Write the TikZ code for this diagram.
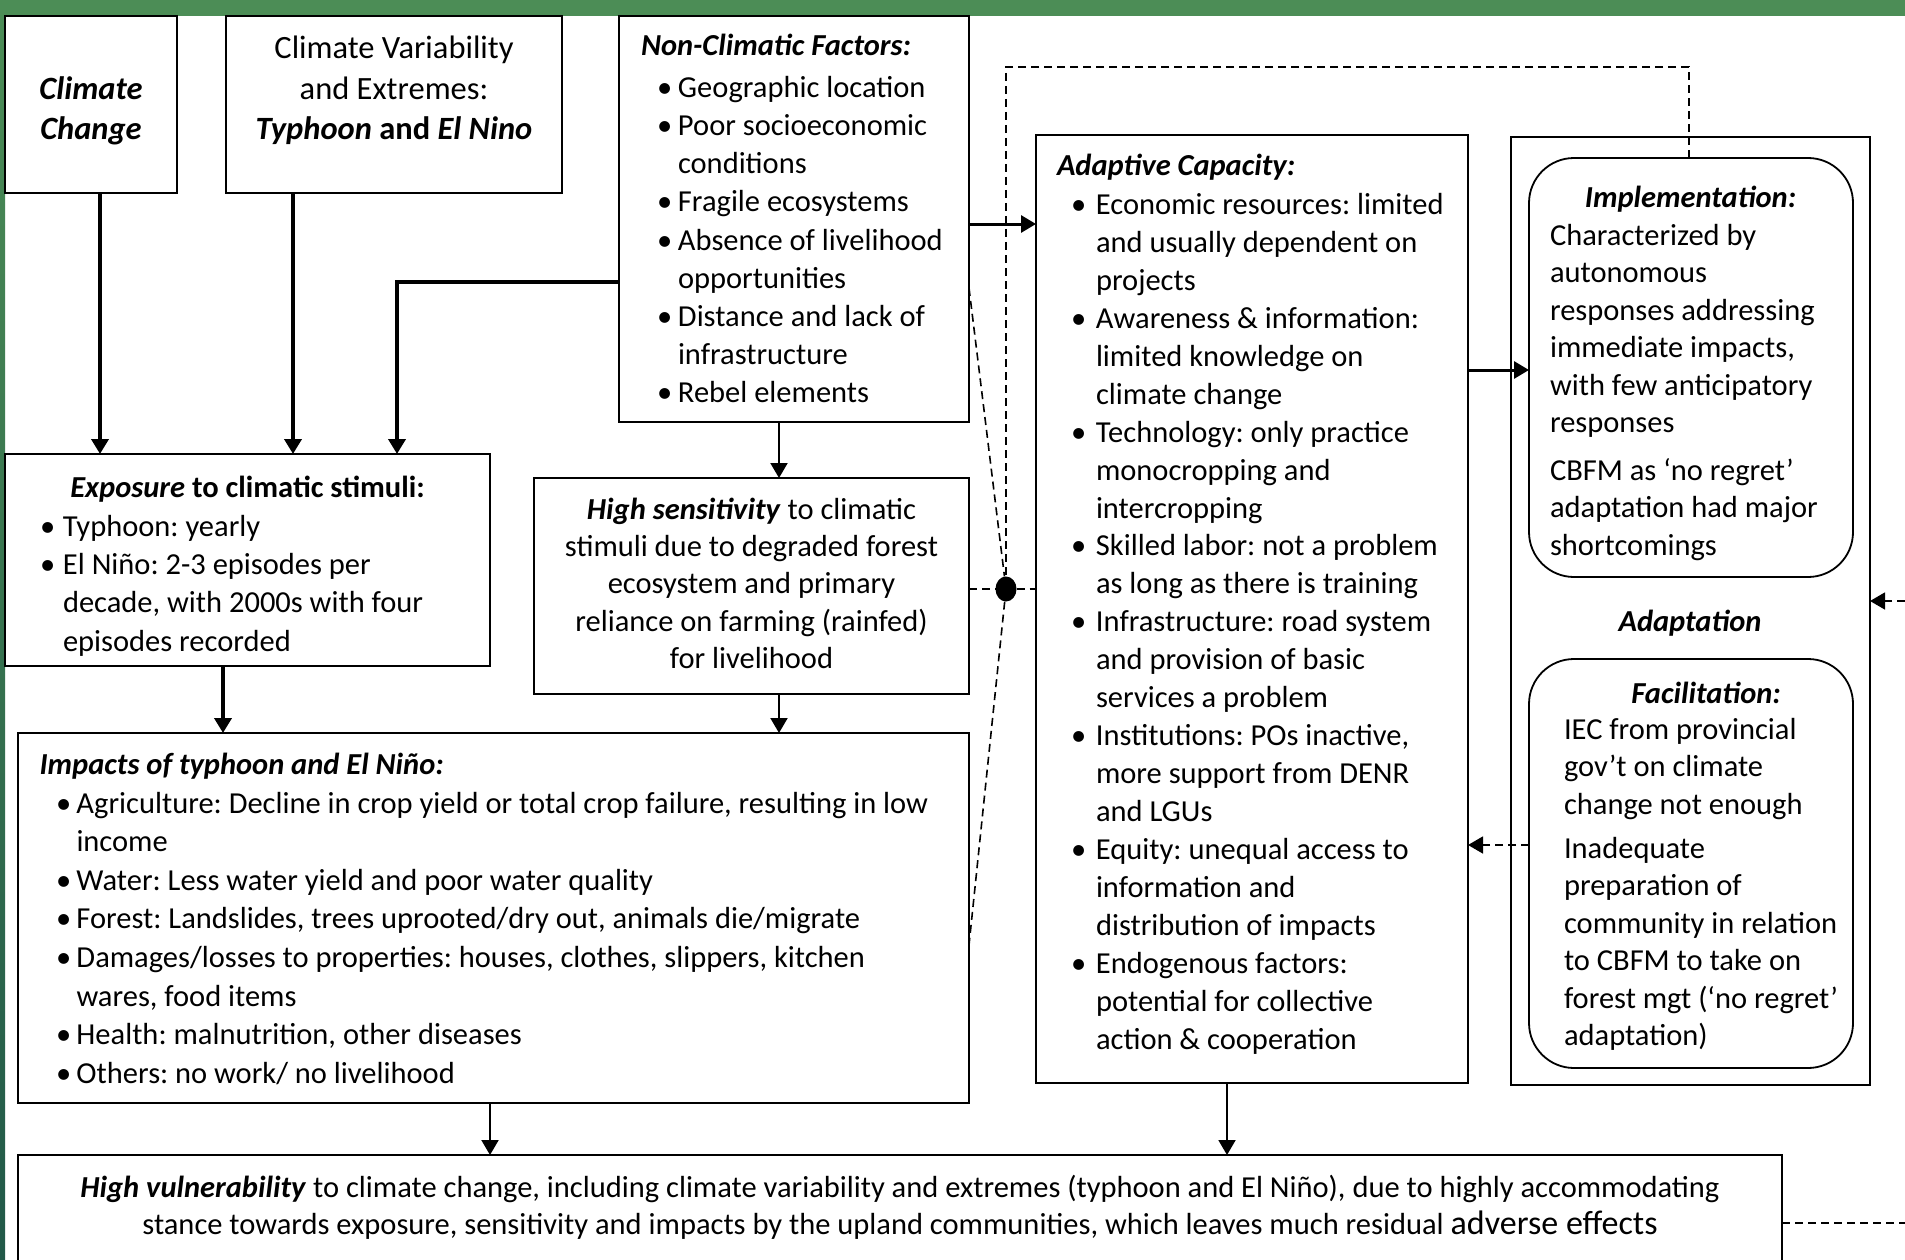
\documentclass[tikz,border=0pt]{standalone}
\usepackage{fontspec}
\setmainfont{Carlito}
\usetikzlibrary{arrows.meta,shapes.geometric}
\definecolor{gtop}{RGB}{76,141,86}
\definecolor{gbot}{RGB}{33,88,72}
\newcommand{\bul}[2]{\hspace*{#1}\makebox[#2][l]{•}}
\frenchspacing
\begin{document}
\begin{tikzpicture}[x=1pt,y=-1pt,
  box/.style={draw, line width=2pt, rectangle, inner sep=0pt, outer sep=0pt, anchor=north west},
  rbox/.style={draw, line width=1.8pt, rectangle, rounded corners=45pt, inner sep=0pt, outer sep=0pt, anchor=north west},
  txt/.style={inner sep=0pt, outer sep=0pt, align=left, font=\fontsize{30.5}{38.3}\selectfont},
  hd/.style={inner sep=0pt, outer sep=0pt, anchor=base, font=\fontsize{30.5}{38.3}\selectfont\bfseries\itshape},
  tip/.style={-{Triangle[length=15pt,width=17pt]}},
  thickarr/.style={tip, line width=4.5pt},
  medarr/.style={tip, line width=3pt},
  thinarr/.style={tip, line width=2pt},
  dsh/.style={line width=1.6pt, dash pattern=on 8pt off 5pt},
  dotnode/.style={ellipse, fill=black, draw=none, minimum width=21pt, minimum height=25pt, inner sep=0pt}
]
\fill[white] (0,0) rectangle (1905,1260);
\useasboundingbox (0,0) rectangle (1905,1260);
\fill[gtop] (0,0) rectangle (1905,16);
\shade[top color=gtop, bottom color=gbot] (0,0) rectangle (5,1260);

% boxes
\node[box, minimum width=172pt, minimum height=177pt] (cc) at (5,16) {};
\node[box, minimum width=336pt, minimum height=177pt] (cv) at (226,16) {};
\node[box, minimum width=350pt, minimum height=406pt] (nc) at (619,16) {};
\node[box, minimum width=485pt, minimum height=212pt] (ex) at (5,454) {};
\node[box, minimum width=435pt, minimum height=216pt] (se) at (534,478) {};
\node[box, minimum width=951pt, minimum height=370pt] (im) at (18,733) {};
\node[box, minimum width=1764pt, minimum height=107pt] (vu) at (18,1155) {};
\node[box, minimum width=432pt, minimum height=948pt] (ac) at (1036,135) {};
\node[box, line width=1.6pt, minimum width=359pt, minimum height=948pt] (ad) at (1511,137) {};
\node[rbox, minimum width=324pt, minimum height=419pt] (imp) at (1529,158) {};
\node[rbox, minimum width=324pt, minimum height=409pt] (fac) at (1529,659) {};

% texts (multi-line nodes are anchored at the baseline of their last line)
\node[txt, anchor=base, align=center, font=\fontsize{32.5}{40}\selectfont\bfseries\itshape] (cct) at (91,140) {Climate\\Change};
\node[txt, anchor=base, align=center, font=\fontsize{32.5}{40.5}\selectfont] (cvt) at (394,140) {Climate Variability\\and Extremes:\\\textbf{\textit{Typhoon} and \textit{El Nino}}};
\node[txt, anchor=base west, font=\fontsize{30.5}{38.2}\selectfont] (nct) at (641,402.8) {\textbf{\textit{Non-Climatic Factors:}}\\[4pt]
\bul{16pt}{21pt}Geographic location\\
\bul{16pt}{21pt}Poor socioeconomic\\
\hspace*{37pt}conditions\\
\bul{16pt}{21pt}Fragile ecosystems\\
\bul{16pt}{21pt}Absence of livelihood\\
\hspace*{37pt}opportunities\\
\bul{16pt}{21pt}Distance and lack of\\
\hspace*{37pt}infrastructure\\
\bul{16pt}{21pt}Rebel elements};
\node[hd] (exh) at (247.5,497) {Exposure \upshape to climatic stimuli:};
\node[txt, anchor=base west] (ext) at (40,651) {\bul{0pt}{23pt}Typhoon: yearly\\
\bul{0pt}{23pt}El Niño: 2-3 episodes per\\
\hspace*{23pt}decade, with 2000s with four\\
\hspace*{23pt}episodes recorded};
\node[txt, anchor=base, align=center, font=\fontsize{30.5}{37.4}\selectfont] (set) at (751.5,668.6) {\textbf{\textit{High sensitivity}} to climatic\\stimuli due to degraded forest\\ecosystem and primary\\reliance on farming (rainfed)\\for livelihood};
\node[txt, anchor=base west, font=\fontsize{30.5}{38.6}\selectfont] (imt) at (39.5,1083.3) {\textbf{\textit{Impacts of typhoon and El Niño:}}\\
\bul{16.5pt}{20.5pt}Agriculture: Decline in crop yield or total crop failure, resulting in low\\
\hspace*{37pt}income\\
\bul{16.5pt}{20.5pt}Water: Less water yield and poor water quality\\
\bul{16.5pt}{20.5pt}Forest: Landslides, trees uprooted/dry out, animals die/migrate\\
\bul{16.5pt}{20.5pt}Damages/losses to properties: houses, clothes, slippers, kitchen\\
\hspace*{37pt}wares, food items\\
\bul{16.5pt}{20.5pt}Health: malnutrition, other diseases\\
\bul{16.5pt}{20.5pt}Others: no work/ no livelihood};
\node[txt, anchor=base west, font=\fontsize{30.5}{37.94}\selectfont] (act) at (1057,1049.2) {\textbf{\textit{Adaptive Capacity:}}\\[0.6pt]
\bul{14pt}{25pt}Economic resources: limited\\
\hspace*{39pt}and usually dependent on\\
\hspace*{39pt}projects\\
\bul{14pt}{25pt}Awareness \& information:\\
\hspace*{39pt}limited knowledge on\\
\hspace*{39pt}climate change\\
\bul{14pt}{25pt}Technology: only practice\\
\hspace*{39pt}monocropping and\\
\hspace*{39pt}intercropping\\
\bul{14pt}{25pt}Skilled labor: not a problem\\
\hspace*{39pt}as long as there is training\\
\bul{14pt}{25pt}Infrastructure: road system\\
\hspace*{39pt}and provision of basic\\
\hspace*{39pt}services a problem\\
\bul{14pt}{25pt}Institutions: POs inactive,\\
\hspace*{39pt}more support from DENR\\
\hspace*{39pt}and LGUs\\
\bul{14pt}{25pt}Equity: unequal access to\\
\hspace*{39pt}information and\\
\hspace*{39pt}distribution of impacts\\
\bul{14pt}{25pt}Endogenous factors:\\
\hspace*{39pt}potential for collective\\
\hspace*{39pt}action \& cooperation};
\node[hd] (imph) at (1690.5,207.7) {Implementation:};
\node[txt, anchor=base west, font=\fontsize{30.5}{37.5}\selectfont] (impt) at (1550,555) {Characterized by\\autonomous\\responses addressing\\immediate impacts,\\with few anticipatory\\responses\\[10pt]CBFM as ‘no regret’\\adaptation had major\\shortcomings};
\node[hd] (adh) at (1690,631) {Adaptation};
\node[hd] (fach) at (1706,703) {Facilitation:};
\node[txt, anchor=base west, font=\fontsize{30.5}{37.5}\selectfont] (fact) at (1564,1045.5) {IEC from provincial\\gov’t on climate\\change not enough\\[6.5pt]Inadequate\\preparation of\\community in relation\\to CBFM to take on\\forest mgt (‘no regret’\\adaptation)};
\node[txt, anchor=base, align=center, font=\fontsize{30.5}{37}\selectfont] (vut) at (900,1234) {\textbf{\textit{High vulnerability}} to climate change, including climate variability and extremes (typhoon and El Niño), due to highly accommodating\\stance towards exposure, sensitivity and impacts by the upland communities, which leaves much residual {\fontsize{34}{37}\selectfont adverse effects}};

% helper coordinates
\coordinate (xcc) at (100,0);
\coordinate (xcv) at (293,0);
\coordinate (bend) at (397,282);
\coordinate (xex) at (223,0);
\coordinate (xns) at (779,0);
\coordinate (xiv) at (490,0);
\coordinate (xav) at (1227,0);
\coordinate (yna) at (0,224);
\coordinate (yai) at (0,370);
\coordinate (yfa) at (0,845);
\coordinate (ync) at (0,288);
\coordinate (yim) at (0,945);
\coordinate (topl) at (1006,67);
\coordinate (topr) at (1689,67);
\coordinate (redgeA) at (1905,1223);
\coordinate (redgeB) at (1905,601);
\node[dotnode] (dot) at (1006,589) {};

% solid connectors
\draw[thickarr] (cc.south -| xcc) -- (ex.north -| xcc);
\draw[thickarr] (cv.south -| xcv) -- (ex.north -| xcv);
\draw[thickarr] (nc.west |- bend) -- (bend) -- (ex.north -| bend);
\draw[thickarr] (ex.south -| xex) -- (im.north -| xex);
\draw[thinarr] (nc.south -| xns) -- (se.north -| xns);
\draw[thinarr] (se.south -| xns) -- (im.north -| xns);
\draw[thinarr] (im.south -| xiv) -- (vu.north -| xiv);
\draw[thinarr] (ac.south -| xav) -- (vu.north -| xav);
\draw[medarr] (nc.east |- yna) -- (ac.west |- yna);
\draw[medarr] (ac.east |- yai) -- (imp.west |- yai);

% dashed connectors
\draw[dsh, -{Triangle[length=15pt,width=17pt]}] (fac.west |- yfa) -- (ac.east |- yfa);
\draw[dsh] (imp.north -| topr) -- (topr) -- (topl) -- (dot);
\draw[dsh] (nc.east |- ync) -- (dot);
\draw[dsh] (se.east |- dot) -- (dot) -- (ac.west |- dot);
\draw[dsh] (dot) -- (im.east |- yim);
\draw[dsh] (vu.east |- redgeA) -- (redgeA);
\draw[dsh, -{Triangle[length=15pt,width=17pt]}] (redgeB) -- (ad.east |- redgeB);
\end{tikzpicture}
\end{document}
